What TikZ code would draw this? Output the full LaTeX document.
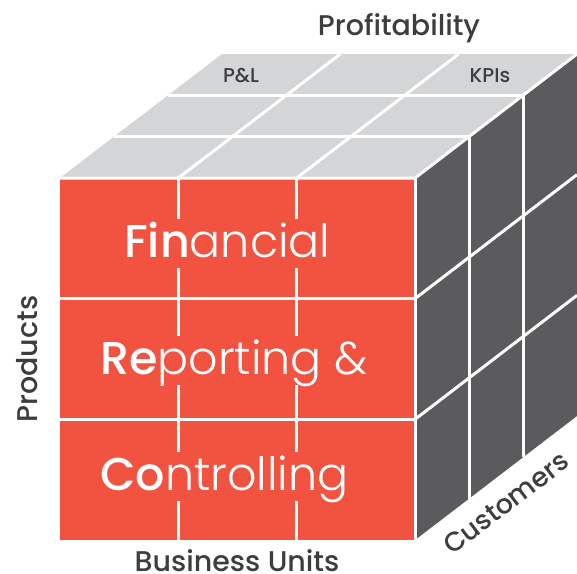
\documentclass[tikz,border=0pt]{standalone}
\usepackage{fontspec}
\setmainfont{Poppins}[UprightFont={* Light},BoldFont={* Medium}]
\newfontfamily\lblfont{Poppins}[UprightFont={* Medium},BoldFont={* SemiBold}]
\usetikzlibrary{calc}
\definecolor{cred}{HTML}{F15340}
\definecolor{ctop}{HTML}{D4D5D7}
\definecolor{cside}{HTML}{5B5B5D}
\definecolor{ctext}{HTML}{3D3D3F}
\begin{document}
\begin{tikzpicture}[x=1pt,y=-1pt,
 gridline/.style={white,line width=3pt},
 lbl/.style={text=ctext,font=\lblfont\fontsize{28.5}{28.5}\selectfont,inner sep=0},
 smalllbl/.style={text=ctext,font=\lblfont\fontsize{20}{20}\selectfont,inner sep=0,anchor=base},
 big/.style={fill=cred,text=white,font=\fontsize{46}{46}\selectfont,inner xsep=2pt,inner ysep=0,text height=38pt,text depth=11pt,anchor=base west}]
\useasboundingbox (0,0) rectangle (577,573);
\coordinate (A) at (60,178);
\coordinate (B) at (415,178);
\coordinate (C) at (415,540);
\coordinate (D) at (60,540);
\coordinate (E) at (222,54);
\coordinate (F) at (577,54);
\coordinate (G) at (577,416);
\fill[cred] (A) rectangle (C);
\fill[ctop] (A) -- (E) -- (F) -- (B) -- cycle;
\fill[cside] (B) -- (F) -- (G) -- (C) -- cycle;
\foreach \i in {1,2} {
 \draw[gridline] ($(A)!\i/3!(B)$) -- ($(D)!\i/3!(C)$);
 \draw[gridline] ($(A)!\i/3!(D)$) -- ($(B)!\i/3!(C)$);
 \draw[gridline] ($(A)!\i/3!(E)$) -- ($(B)!\i/3!(F)$);
 \draw[gridline] ($(A)!\i/3!(B)$) -- ($(E)!\i/3!(F)$);
 \draw[gridline] ($(B)!\i/3!(F)$) -- ($(C)!\i/3!(G)$);
 \draw[gridline] ($(B)!\i/3!(C)$) -- ($(F)!\i/3!(G)$);
}
\draw[gridline] (A) -- (B) -- (F);
\draw[gridline] (B) -- (C);
\node[big] (fin) at (122,257) {\textbf{Fin}ancial};
\node[big] (rep) at (98,374) {\textbf{Re}porting \&};
\node[big] (con) at (98,490) {\textbf{Co}ntrolling};
\node[lbl,anchor=base] (prof) at (399,35) {Profitability};
\node[smalllbl] (pl) at (241,82) {P\&L};
\node[smalllbl] (kpi) at (490,82) {KPIs};
\node[lbl,rotate=90] (prod) at (27,359) {Products};
\node[lbl] (bu) at (237,561) {Business Units};
\node[lbl,rotate=37.4,font=\lblfont\fontsize{27}{27}\selectfont] (cust) at (506,503) {Customers};
\end{tikzpicture}
\end{document}
